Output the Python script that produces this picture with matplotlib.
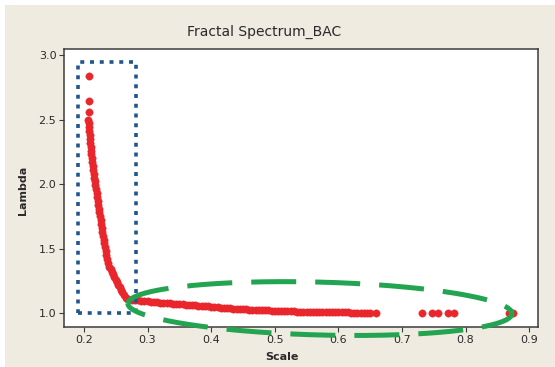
import numpy as np
import matplotlib
matplotlib.use("Agg")
import matplotlib.pyplot as plt
from matplotlib.patches import Rectangle

# ---- data ----
# isolated top points
top_x = [0.2084, 0.2084, 0.2086]
top_y = [2.838, 2.646, 2.561]

# steep branch
steep_x = [0.2070, 0.2075, 0.2080, 0.2085, 0.2090, 0.2095, 0.2100, 0.2105, 0.2110, 0.2115,
           0.2120, 0.2128, 0.2136, 0.2144, 0.2152, 0.2160, 0.2170, 0.2180, 0.2190, 0.2200,
           0.2208, 0.2216, 0.2224, 0.2232, 0.2240, 0.2250, 0.2260, 0.2270, 0.2280, 0.2290,
           0.2300, 0.2310, 0.2320, 0.2330, 0.2340, 0.2350, 0.2365, 0.2380, 0.2400, 0.2420,
           0.2440, 0.2460, 0.2480, 0.2500, 0.2520, 0.2540, 0.2560, 0.2580, 0.2600, 0.2630,
           0.2660, 0.2700]
steep_y = [2.50, 2.47, 2.44, 2.41, 2.38, 2.35, 2.32, 2.29, 2.26, 2.23,
           2.20, 2.17, 2.14, 2.11, 2.08, 2.05, 2.02, 1.99, 1.96, 1.93,
           1.90, 1.87, 1.84, 1.81, 1.78, 1.75, 1.72, 1.69, 1.66, 1.63,
           1.60, 1.57, 1.54, 1.51, 1.48, 1.45, 1.42, 1.39, 1.36, 1.34,
           1.32, 1.30, 1.28, 1.26, 1.24, 1.22, 1.20, 1.18, 1.16, 1.14,
           1.12, 1.11]

# flat tail
tail_x = [0.275, 0.280, 0.285, 0.290, 0.295, 0.300, 0.305, 0.310, 0.315, 0.320,
          0.325, 0.330, 0.335, 0.340, 0.345, 0.350, 0.355, 0.360, 0.365, 0.370,
          0.375, 0.380, 0.385, 0.390, 0.395, 0.400, 0.405, 0.410, 0.415, 0.420,
          0.425, 0.430, 0.435, 0.440, 0.445, 0.450, 0.455, 0.460, 0.465, 0.470,
          0.475, 0.480, 0.485, 0.490, 0.495, 0.500, 0.505, 0.510, 0.515, 0.520,
          0.525, 0.530, 0.535, 0.540, 0.545, 0.550, 0.555, 0.560, 0.565, 0.570,
          0.575, 0.580, 0.585, 0.590, 0.595, 0.600, 0.605, 0.610, 0.615, 0.620,
          0.625, 0.630, 0.635, 0.640, 0.645, 0.650, 0.660]
tail_y = [1.105, 1.102, 1.099, 1.096, 1.093, 1.090, 1.087, 1.085, 1.083, 1.081,
          1.079, 1.077, 1.075, 1.073, 1.071, 1.069, 1.067, 1.065, 1.063, 1.061,
          1.059, 1.057, 1.055, 1.053, 1.051, 1.049, 1.047, 1.045, 1.043, 1.041,
          1.039, 1.037, 1.035, 1.033, 1.031, 1.030, 1.028, 1.027, 1.025, 1.024,
          1.023, 1.022, 1.021, 1.020, 1.019, 1.018, 1.017, 1.016, 1.015, 1.014,
          1.013, 1.013, 1.012, 1.011, 1.011, 1.010, 1.010, 1.009, 1.009, 1.008,
          1.008, 1.007, 1.007, 1.006, 1.006, 1.006, 1.005, 1.005, 1.005, 1.004,
          1.004, 1.004, 1.003, 1.003, 1.003, 1.003, 1.002]

# scattered far points
far_x = [0.731, 0.748, 0.756, 0.773, 0.782, 0.869, 0.874]
far_y = [1.001, 1.001, 1.001, 1.001, 1.000, 1.001, 1.000]

x_ticks = [0.2, 0.3, 0.4, 0.5, 0.6, 0.7, 0.8, 0.9]
y_ticks = [1.0, 1.5, 2.0, 2.5, 3.0]

title = "Fractal Spectrum_BAC"
xlabel = "Scale"
ylabel = "Lambda"

# ---- styling ----
BG = "#efebe1"
RED = "#e8262b"
BLUE = "#1f568e"
GREEN = "#22a450"
FRAME = "#3c3c3c"
TXT = "#2a2a2a"

fig = plt.figure(figsize=(5.55, 3.67), dpi=100, facecolor=BG)
# thin white margin on top/left as in the reference
fig.patches.append(Rectangle((0, 0), 5 / 555, 1, transform=fig.transFigure,
                             facecolor="white", edgecolor="none", zorder=0))
fig.patches.append(Rectangle((0, 1 - 5 / 367), 1, 5 / 367, transform=fig.transFigure,
                             facecolor="white", edgecolor="none", zorder=0))

ax = fig.add_axes([64 / 555, 1 - 327 / 367, (538 - 64) / 555, (327 - 49) / 367])
ax.set_facecolor("white")

all_x = top_x + steep_x + tail_x + far_x
all_y = top_y + steep_y + tail_y + far_y
ax.plot(all_x, all_y, linestyle="none", marker="o", markersize=5.3,
        markerfacecolor=RED, markeredgecolor=RED, markeredgewidth=0.3, zorder=3)

ax.set_xlim(0.1686, 0.914)
ax.set_ylim(0.892, 3.047)
ax.set_xticks(x_ticks)
ax.set_yticks(y_ticks)
ax.set_xticklabels([f"{v:.1f}" for v in x_ticks])
ax.set_yticklabels([f"{v:.1f}" for v in y_ticks])
ax.tick_params(axis="both", direction="out", length=3.5, width=0.8, color=FRAME,
               labelsize=8, labelcolor=TXT, pad=2)
for s in ax.spines.values():
    s.set_color(FRAME)
    s.set_linewidth(1.1)

# blue dotted box
box = Rectangle((0.1906, 1.0), 0.2818 - 0.1906, 2.946 - 1.0,
                fill=False, edgecolor=BLUE, linewidth=2.6,
                linestyle=(0, (1.1, 1.6)), joinstyle="round", capstyle="butt",
                zorder=4)
ax.add_patch(box)

# green dashed ellipse (slightly tilted)
ecx, ecy, ea, eb, eshear = 0.5711, 1.035, 0.302, 0.205, 0.128
t = np.linspace(np.pi, -np.pi, 400)
ex = ecx + ea * np.cos(t)
ey = ecy + eb * np.sin(t) - eshear * (ea * np.cos(t))
ax.plot(ex, ey, color=GREEN, linewidth=3.6, linestyle=(0, (9.0, 3.8)),
        solid_capstyle="butt", dash_capstyle="butt", clip_on=False, zorder=5)

fig.text(264 / 555, 1 - 32 / 367, title, ha="center", va="center",
         fontsize=10, color=TXT)
fig.text(282 / 555, 1 - 357 / 367, xlabel, ha="center", va="center",
         fontsize=8, fontweight="bold", color=TXT)
fig.text(23 / 555, 1 - 190 / 367, ylabel, ha="center", va="center",
         rotation=90, fontsize=8, fontweight="bold", color=TXT)

fig.savefig("out.png", dpi=100, facecolor=BG)
